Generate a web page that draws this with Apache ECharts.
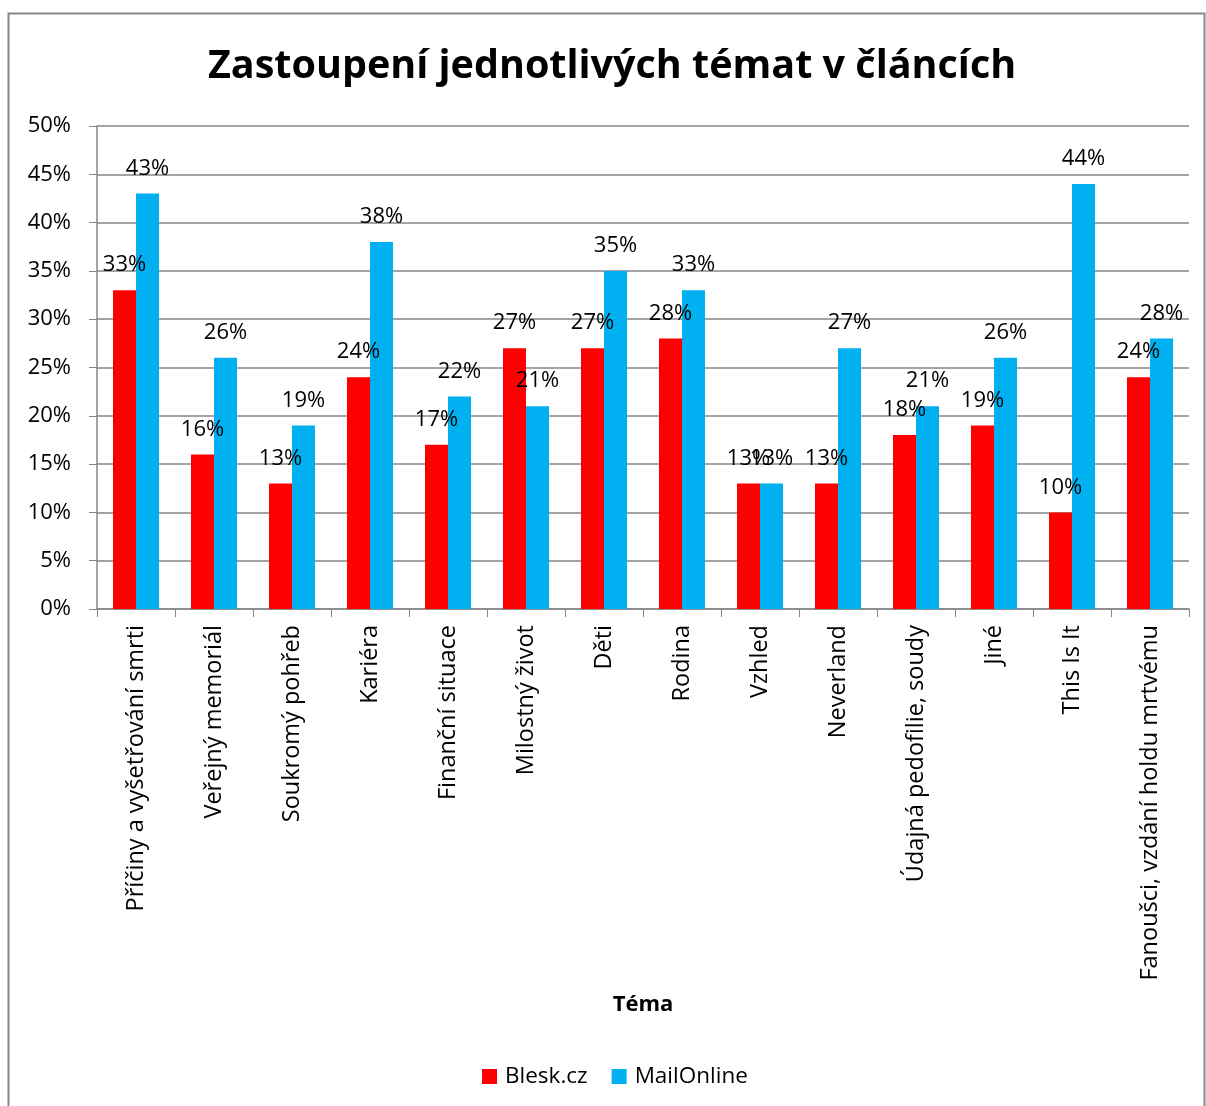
<!DOCTYPE html>
<html>
<head>
<meta charset="utf-8">
<script src="https://cdn.jsdelivr.net/npm/echarts@6/dist/echarts.min.js"></script>
<style>
  html, body { margin: 0; padding: 0; background: #fff; }
  #chart { width: 1206px; height: 1106px; }
</style>
</head>
<body>
<div id="chart"></div>
<script>
// categories and values (percent)
const categories = [
  "Příčiny a vyšetřování smrti", "Veřejný memoriál", "Soukromý pohřeb", "Kariéra",
  "Finanční situace", "Milostný život", "Děti", "Rodina", "Vzhled", "Neverland",
  "Údajná pedofilie, soudy", "Jiné", "This Is It", "Fanoušci, vzdání holdu mrtvému"
];
const blesk = [33, 16, 13, 24, 17, 27, 27, 28, 13, 13, 18, 19, 10, 24];
const mailOnline = [43, 26, 19, 38, 22, 21, 35, 33, 13, 27, 21, 26, 44, 28];

const font = "'Open Sans', 'DejaVu Sans', sans-serif";

let chart = echarts.init(document.getElementById("chart"));

let labelStyle = {
  show: true,
  position: "top",
  distance: 14,
  formatter: "{c}%",
  color: "#000",
  fontSize: 22,
  fontFamily: font
};

chart.setOption({
  animation: false,
  graphic: [{
    type: "rect",
    shape: { x: 8.5, y: 13.5, width: 1196, height: 1100 },
    style: { fill: "none", stroke: "#878787", lineWidth: 2 }
  }],
  title: {
    text: "Zastoupení jednotlivých témat v článcích",
    left: 208,
    top: 47,
    padding: 0,
    textStyle: { fontSize: 39.5, fontWeight: "bold", color: "#000", fontFamily: font }
  },
  grid: { left: 97, right: 17, top: 126, bottom: 497 },
  legend: {
    bottom: 18,
    left: 482,
    padding: 0,
    itemWidth: 15,
    itemHeight: 15,
    itemGap: 24,
    icon: "rect",
    textStyle: { fontSize: 22.5, color: "#000", fontFamily: font, padding: [0, 0, 0, 3] }
  },
  xAxis: {
    type: "category",
    data: categories,
    name: "Téma",
    nameLocation: "middle",
    nameGap: 385,
    nameTextStyle: { fontSize: 22, fontWeight: "bold", color: "#000", fontFamily: font },
    axisLine: { lineStyle: { color: "#868686", width: 1.5 } },
    axisTick: { show: true, length: 8, lineStyle: { color: "#868686" } },
    axisLabel: { rotate: 90, margin: 16, fontSize: 23.5, color: "#000", fontFamily: font, interval: 0 }
  },
  yAxis: {
    type: "value",
    min: 0,
    max: 50,
    interval: 5,
    axisLine: { show: true, lineStyle: { color: "#868686", width: 1.5 } },
    axisTick: { show: true, length: 8, inside: false, lineStyle: { color: "#868686" } },
    axisLabel: { formatter: "{value}%", fontSize: 22, color: "#000", fontFamily: font, margin: 26 },
    splitLine: { lineStyle: { color: "#868686", width: 1.5 } }
  },
  series: [
    {
      name: "Blesk.cz",
      type: "bar",
      data: blesk,
      barGap: "0%",
      barCategoryGap: "41%",
      itemStyle: { color: "#ff0000" },
      label: labelStyle
    },
    {
      name: "MailOnline",
      type: "bar",
      data: mailOnline,
      itemStyle: { color: "#00b0f0" },
      label: labelStyle
    }
  ]
});
</script>
</body>
</html>
